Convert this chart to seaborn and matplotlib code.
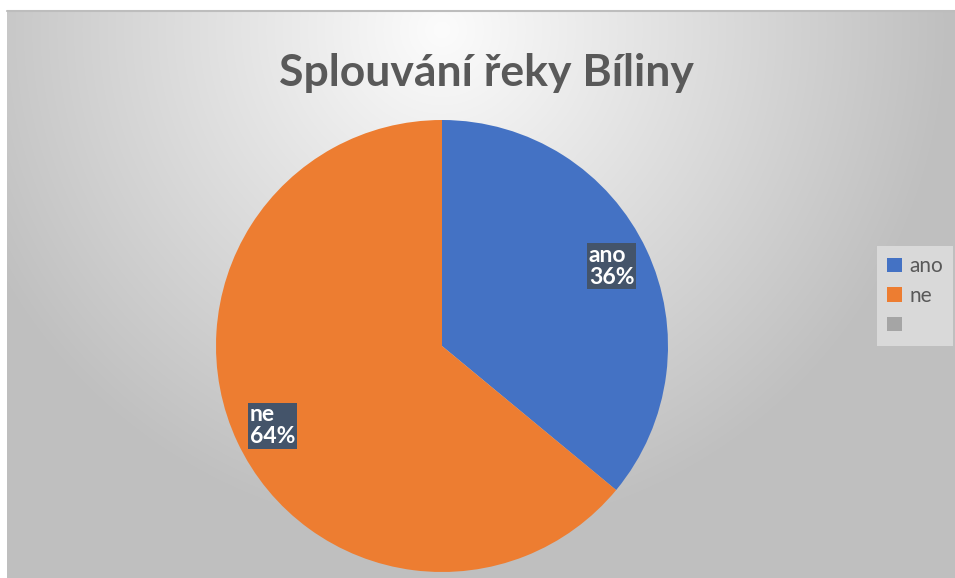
import numpy as np
import matplotlib
matplotlib.use("Agg")
import matplotlib.pyplot as plt
import seaborn as sns
from matplotlib.patches import Patch
from matplotlib.lines import Line2D

# ---- data ----
categories = ["ano", "ne", ""]
values = [36, 64, 0]
percent_labels = ["36%", "64%", ""]
title = "Splouvání řeky Bíliny"

sns.set_theme(style="white")
plt.rcParams['font.family'] = ['Lato', 'DejaVu Sans']

palette = sns.color_palette(["#4472C4", "#ED7D31", "#A5A5A5"])

W, H = 955, 578
fig = plt.figure(figsize=(W / 100, H / 100), dpi=100)
fig.patch.set_facecolor('white')

# ---- chart area background (radial gradient) ----
x0, ytop = 7, 10
bg = fig.add_axes([x0 / W, 0, (W - x0) / W, (H - ytop) / H])
xs = np.arange(x0, W) + 0.5
ys = np.arange(ytop, H) + 0.5
X, Y = np.meshgrid(xs, ys)
d = np.hypot(X - 442, Y - 30)
t = np.clip(d / 510, 0, 1)
val = (252 - t * (252 - 191)) / 255
img = np.dstack([val, val, val])
bg.imshow(img, extent=(x0, W, H, ytop), aspect='auto', interpolation='bilinear')
bg.set_xlim(x0, W)
bg.set_ylim(H, ytop)
bg.axis('off')
fig.add_artist(Line2D([x0 / W, 1], [1 - 10.5 / H] * 2, color='#bdbdbd', lw=1.5,
                      transform=fig.transFigure))

# ---- pie ----
cx, cy, r = 442, 346, 226
ax = fig.add_axes([(cx - r) / W, (H - cy - r) / H, 2 * r / W, 2 * r / H])
idx = [i for i, v in enumerate(values) if v > 0]
vals = [values[i] for i in idx]
cols = [palette[i] for i in idx]
lbls = [f"{categories[i]}\n{percent_labels[i]}" for i in idx]
wedges, texts = ax.pie(vals, colors=cols, startangle=90, counterclock=False,
                       radius=1, labels=lbls, labeldistance=0.83,
                       wedgeprops=dict(linewidth=0),
                       textprops=dict(color='white', fontweight='bold',
                                      fontsize=16.5, linespacing=1.05))
for tx in texts:
    tx.set_ha('center')
    tx.set_va('center')
    tx.set_multialignment('left')
    tx.set_bbox(dict(boxstyle='square,pad=0.08', fc='#44546A', ec='none'))
ax.set_xlim(-1, 1)
ax.set_ylim(-1, 1)
ax.set_aspect('equal')
ax.axis('off')

# ---- title ----
fig.text(486 / W, 1 - 73 / H, title, ha='center', va='center', fontsize=32,
         fontweight='bold', color='#595959')

# ---- legend ----
handles = [Patch(facecolor=palette[i], edgecolor='none') for i in range(len(categories))]
leg = fig.legend(handles, categories, loc='upper left',
                 bbox_to_anchor=(877 / W, 1 - 246 / H), frameon=True,
                 facecolor='#d9d9d9', edgecolor='none', framealpha=1,
                 fontsize=15, labelcolor='#595959', handlelength=0.7,
                 handleheight=0.7, handletextpad=0.35, labelspacing=0.45,
                 borderpad=0.5, fancybox=False, borderaxespad=0)

fig.savefig("out.png", dpi=100)
